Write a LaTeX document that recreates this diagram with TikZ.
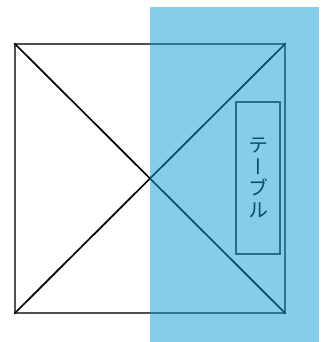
\documentclass[tikz,border=0pt]{standalone}
\usepackage{fontspec}
\newfontfamily\cjkv[RawFeature=+vert]{Noto Sans CJK JP}
\definecolor{bluefill}{RGB}{15,155,211}
\definecolor{sqgray}{RGB}{80,80,80}
\tikzset{
  sqbox/.style={draw=sqgray, line width=1.4pt, minimum width=270pt, minimum height=269pt, inner sep=0pt},
  diag/.style={draw=black, line width=1.7pt},
  tablebox/.style={draw=black!75, line width=1.3pt, minimum width=44pt, minimum height=152pt, inner sep=0pt, align=center, font=\cjkv\fontsize{20}{21.5}\selectfont},
  overlay band/.style={fill=bluefill, fill opacity=0.5, draw=none, inner sep=0pt, minimum width=169pt, minimum height=335pt}
}
\begin{document}
\begin{tikzpicture}[x=1pt,y=-1pt]
\useasboundingbox (0,0) rectangle (324,342);
\node[sqbox] (sq) at (150,178.5) {};
\draw[diag] (sq.north west) -- (sq.south east);
\draw[diag] (sq.south west) -- (sq.north east);
\node[tablebox] (tbl) at (258,178) {テ\\ー\\ブ\\ル};
\node[overlay band] (band) at (234.5,174.5) {};
\end{tikzpicture}
\end{document}
